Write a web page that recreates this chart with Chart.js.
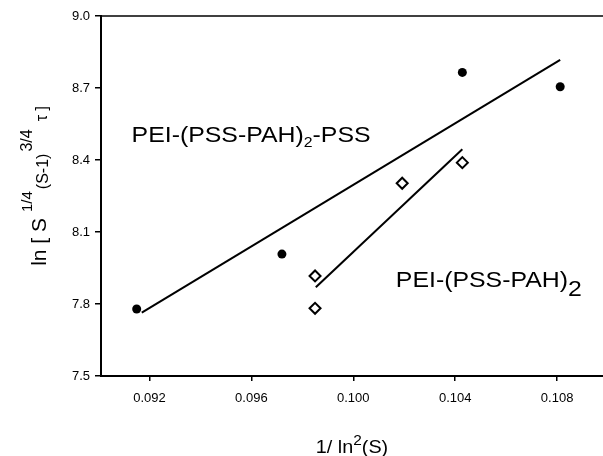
<!DOCTYPE html>
<html>
<head>
<meta charset="utf-8">
<script src="https://cdn.jsdelivr.net/npm/chart.js@4"></script>
<style>
  html, body { margin: 0; padding: 0; background: #fff; }
  #wrap { width: 603px; height: 456px; }
</style>
</head>
<body>
<div id="wrap"><canvas id="chart" width="603" height="456"></canvas></div>
<script>
const xTicks = [0.092, 0.096, 0.100, 0.104, 0.108]
const yTicks = [7.5, 7.8, 8.1, 8.4, 8.7, 9.0]

// PEI-(PSS-PAH)2-PSS, filled circles
const pssX = [0.09150, 0.09720, 0.10428, 0.10812]
const pssY = [7.779, 8.008, 8.765, 8.705]
// PEI-(PSS-PAH)2, open diamonds
const pahX = [0.09850, 0.09850, 0.10192, 0.10428]
const pahY = [7.917, 7.782, 8.303, 8.389]

// fitted lines, end points
const pssFitX = [0.09170, 0.10812]
const pssFitY = [7.764, 8.817]
const pahFitX = [0.09853, 0.10428]
const pahFitY = [7.870, 8.445]

const zip = (xs, ys) => xs.map((x, i) => ({ x: x, y: ys[i] }))

const FONT = '"Liberation Sans", Arial, sans-serif'

// draw a row of text pieces (with sub/superscripts), starting at x
const drawRuns = (ctx, runs, x, y, center) => {
    let total = 0
    runs.forEach(r => {
        ctx.font = `${r.size}px ${FONT}`
        total += (r.gap || 0) + ctx.measureText(r.t).width
    })
    let cx = center ? x - total / 2 : x
    runs.forEach(r => {
        ctx.font = `${r.size}px ${FONT}`
        cx += r.gap || 0
        ctx.fillText(r.t, cx, y + (r.dy || 0))
        cx += ctx.measureText(r.t).width
    })
}

const decor = {
    id: 'decor',
    afterDraw(chart) {
        const { ctx, chartArea: a, scales } = chart
        const sx = scales.x, sy = scales.y
        ctx.save()

        // top frame line
        ctx.strokeStyle = '#000'
        ctx.lineWidth = 1.5
        ctx.beginPath()
        ctx.moveTo(a.left, a.top)
        ctx.lineTo(a.right, a.top)
        ctx.stroke()

        ctx.fillStyle = '#000'
        ctx.textBaseline = 'alphabetic'
        ctx.textAlign = 'left'

        // series labels (figure text is a little stretched sideways)
        const stretch = 1.13
        ctx.save()
        ctx.translate(sx.getPixelForValue(0.0913), sy.getPixelForValue(8.475))
        ctx.scale(stretch, 1)
        drawRuns(ctx, [
            { t: 'PEI-(PSS-PAH)', size: 22 },
            { t: '2', size: 14, dy: 5 },
            { t: '-PSS', size: 22 }
        ], 0, 0, false)
        ctx.restore()

        ctx.save()
        ctx.translate(sx.getPixelForValue(0.10167), sy.getPixelForValue(7.869))
        ctx.scale(stretch, 1)
        drawRuns(ctx, [
            { t: 'PEI-(PSS-PAH)', size: 22 },
            { t: '2', size: 22, dy: 9 }
        ], 0, 0, false)
        ctx.restore()

        // x axis title
        ctx.save()
        ctx.translate((a.left + a.right) / 2, 453)
        ctx.scale(1.1, 1)
        drawRuns(ctx, [
            { t: '1/ ln', size: 18 },
            { t: '2', size: 14, dy: -8 },
            { t: '(S)', size: 18 }
        ], 0, 0, true)
        ctx.restore()

        // y axis title
        ctx.save()
        ctx.translate(46, (a.top + a.bottom) / 2 - 10)
        ctx.rotate(-Math.PI / 2)
        drawRuns(ctx, [
            { t: 'ln [ S', size: 21 },
            { t: '1/4', size: 15, dy: -14, gap: 6 },
            { t: '(S-1)', size: 16, dy: 2, gap: 2 },
            { t: '3/4', size: 16, dy: -14, gap: 2 },
            { t: 'τ ]', size: 16, dy: 1, gap: 8 }
        ], 0, 0, true)
        ctx.restore()

        ctx.restore()
    }
}

const ctx = document.querySelector('#chart').getContext('2d')

new Chart(ctx, {
    type: 'scatter',
    data: {
        datasets: [
            {
                label: 'PEI-(PSS-PAH)2-PSS fit',
                data: zip(pssFitX, pssFitY),
                showLine: true,
                pointRadius: 0,
                borderColor: '#000',
                borderWidth: 2
            },
            {
                label: 'PEI-(PSS-PAH)2 fit',
                data: zip(pahFitX, pahFitY),
                showLine: true,
                pointRadius: 0,
                borderColor: '#000',
                borderWidth: 2
            },
            {
                label: 'PEI-(PSS-PAH)2-PSS',
                data: zip(pssX, pssY),
                pointStyle: 'circle',
                pointRadius: 4.5,
                backgroundColor: '#000',
                borderColor: '#000',
                borderWidth: 0
            },
            {
                label: 'PEI-(PSS-PAH)2',
                data: zip(pahX, pahY),
                pointStyle: 'rectRot',
                pointRadius: 5.5,
                backgroundColor: '#fff',
                borderColor: '#000',
                borderWidth: 2
            }
        ]
    },
    options: {
        responsive: false,
        animation: false,
        devicePixelRatio: 1,
        layout: { autoPadding: false, padding: { top: 16, right: 0, left: 0, bottom: 0 } },
        plugins: {
            legend: { display: false },
            tooltip: { enabled: false }
        },
        scales: {
            x: {
                type: 'linear',
                min: 0.0901,
                max: 0.1098,
                afterBuildTicks: s => { s.ticks = xTicks.map(v => ({ value: v })) },
                afterFit: s => {
                    s.height = 80
                    s.paddingLeft = 0
                    s.paddingRight = 0
                },
                ticks: {
                    callback: v => v.toFixed(3),
                    font: { family: FONT, size: 13 },
                    color: '#000',
                    padding: 10,
                    maxRotation: 0,
                    autoSkip: false
                },
                grid: { drawOnChartArea: false, tickLength: 5, color: '#000', lineWidth: 1.5 },
                border: { color: '#000', width: 2 }
            },
            y: {
                type: 'linear',
                min: 7.5,
                max: 9.0,
                afterBuildTicks: s => { s.ticks = yTicks.map(v => ({ value: v })) },
                afterFit: s => {
                    s.width = 101
                    s.paddingTop = 0
                    s.paddingBottom = 0
                },
                ticks: {
                    callback: v => v.toFixed(1),
                    font: { family: FONT, size: 13 },
                    color: '#000',
                    padding: 5,
                    autoSkip: false
                },
                grid: { drawOnChartArea: false, tickLength: 6, color: '#000', lineWidth: 1.5 },
                border: { color: '#000', width: 2 }
            }
        }
    },
    plugins: [decor]
})
</script>
</body>
</html>
